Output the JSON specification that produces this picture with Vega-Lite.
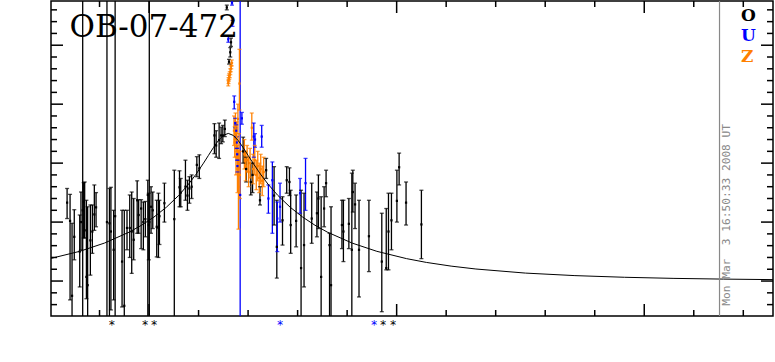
{
  "$schema": "https://vega.github.io/schema/vega-lite/v6.json",
  "width": 722,
  "height": 315,
  "autosize": {"type": "none"},
  "padding": {"left": 51, "top": 1, "right": 2, "bottom": 46},
  "background": "white",
  "config": {"view": {"stroke": "black", "strokeWidth": 1.5}, "font": "DejaVu Serif"},
  "datasets": {
    "obs": [
      {"t": 4266.9, "m": 1.33, "lo": 1.06, "hi": 1.57, "s": "O"},
      {"t": 4268.1, "m": 1.02, "lo": -0.32, "hi": 1.47, "s": "O"},
      {"t": 4268.9, "m": -0.25, "lo": -0.9, "hi": 0.98, "s": "O"},
      {"t": 4269.8, "m": 0.75, "lo": 0.36, "hi": 1.21, "s": "O"},
      {"t": 4272.0, "m": 0.5, "lo": -0.1, "hi": 1.12, "s": "O"},
      {"t": 4272.5, "m": 1.0, "lo": 0.53, "hi": 1.51, "s": "O"},
      {"t": 4273.2, "m": 1.2, "lo": -3, "hi": 8, "s": "O"},
      {"t": 4273.6, "m": 1.34, "lo": 0.73, "hi": 1.67, "s": "O"},
      {"t": 4274.0, "m": 0.86, "lo": 0.73, "hi": 1.68, "s": "O"},
      {"t": 4274.7, "m": 0.07, "lo": -0.3, "hi": 1.37, "s": "O"},
      {"t": 4275.2, "m": -0.07, "lo": -0.9, "hi": 1.26, "s": "O"},
      {"t": 4276.3, "m": 0.69, "lo": 0.1, "hi": 1.29, "s": "O"},
      {"t": 4277.1, "m": 0.84, "lo": 0.47, "hi": 1.29, "s": "O"},
      {"t": 4277.9, "m": 1.13, "lo": 0.86, "hi": 1.63, "s": "O"},
      {"t": 4278.6, "m": 1.25, "lo": 0.92, "hi": 1.5, "s": "O"},
      {"t": 4283.0, "m": 1.0, "lo": -3, "hi": 8, "s": "O"},
      {"t": 4284.0, "m": 0.98, "lo": -0.9, "hi": 1.57, "s": "O"},
      {"t": 4284.6, "m": 0.84, "lo": -0.49, "hi": 1.59, "s": "O"},
      {"t": 4285.7, "m": 0.53, "lo": -0.32, "hi": 1.2, "s": "O"},
      {"t": 4286.3, "m": 1.1, "lo": -3, "hi": 8, "s": "O"},
      {"t": 4289.1, "m": 0.33, "lo": -0.44, "hi": 1.2, "s": "O"},
      {"t": 4290.0, "m": -0.42, "lo": -0.9, "hi": 1.2, "s": "O"},
      {"t": 4291.1, "m": 0.9, "lo": 0.53, "hi": 1.2, "s": "O"},
      {"t": 4292.2, "m": 0.9, "lo": 0.4, "hi": 1.46, "s": "O"},
      {"t": 4293.0, "m": 0.84, "lo": 0.13, "hi": 1.51, "s": "O"},
      {"t": 4293.8, "m": 0.7, "lo": 0.36, "hi": 1.4, "s": "O"},
      {"t": 4295.2, "m": 1.37, "lo": 0.81, "hi": 1.7, "s": "O"},
      {"t": 4295.8, "m": 1.12, "lo": 0.81, "hi": 1.38, "s": "O"},
      {"t": 4296.8, "m": 1.23, "lo": 0.55, "hi": 1.38, "s": "O"},
      {"t": 4297.7, "m": 1.0, "lo": 0.53, "hi": 1.34, "s": "O"},
      {"t": 4298.5, "m": 1.05, "lo": 0.75, "hi": 1.35, "s": "O"},
      {"t": 4299.5, "m": 1.46, "lo": -0.9, "hi": 1.71, "s": "O"},
      {"t": 4299.9, "m": 0.95, "lo": 0.36, "hi": 1.49, "s": "O"},
      {"t": 4300.1, "m": 1.0, "lo": -3, "hi": 8, "s": "O"},
      {"t": 4300.8, "m": 1.26, "lo": 0.81, "hi": 1.6, "s": "O"},
      {"t": 4301.5, "m": 1.2, "lo": 0.89, "hi": 1.51, "s": "O"},
      {"t": 4303.1, "m": 0.92, "lo": 0.41, "hi": 1.37, "s": "O"},
      {"t": 4303.8, "m": 0.9, "lo": 0.4, "hi": 1.49, "s": "O"},
      {"t": 4304.2, "m": 1.1, "lo": 0.62, "hi": 1.37, "s": "O"},
      {"t": 4306.2, "m": 1.32, "lo": 1.0, "hi": 1.66, "s": "O"},
      {"t": 4310.2, "m": 1.05, "lo": -0.9, "hi": 1.88, "s": "O"},
      {"t": 4312.3, "m": 1.59, "lo": 1.26, "hi": 1.87, "s": "O"},
      {"t": 4312.8, "m": 1.5, "lo": 1.26, "hi": 1.74, "s": "O"},
      {"t": 4314.7, "m": 1.6, "lo": 1.37, "hi": 2.05, "s": "O"},
      {"t": 4315.5, "m": 1.45, "lo": 1.2, "hi": 1.71, "s": "O"},
      {"t": 4316.3, "m": 1.57, "lo": 1.32, "hi": 1.77, "s": "O"},
      {"t": 4317.2, "m": 1.6, "lo": 1.4, "hi": 1.8, "s": "O"},
      {"t": 4319.3, "m": 1.97, "lo": 1.77, "hi": 2.11, "s": "O"},
      {"t": 4320.3, "m": 1.91, "lo": 1.74, "hi": 2.14, "s": "O"},
      {"t": 4326.4, "m": 2.47, "lo": 2.16, "hi": 2.67, "s": "O"},
      {"t": 4327.1, "m": 2.3, "lo": 2.1, "hi": 2.55, "s": "O"},
      {"t": 4328.3, "m": 2.39, "lo": 2.08, "hi": 2.68, "s": "O"},
      {"t": 4329.1, "m": 2.47, "lo": 2.33, "hi": 2.61, "s": "O"},
      {"t": 4329.8, "m": 2.47, "lo": 2.36, "hi": 2.64, "s": "O"},
      {"t": 4330.6, "m": 2.58, "lo": 2.45, "hi": 2.73, "s": "O"},
      {"t": 4331.4, "m": 4.64, "lo": 4.6, "hi": 4.68, "s": "O"},
      {"t": 4332.3, "m": 3.72, "lo": 3.68, "hi": 3.76, "s": "O"},
      {"t": 4332.8, "m": 3.88, "lo": 3.8, "hi": 3.96, "s": "O"},
      {"t": 4333.1, "m": 4.05, "lo": 3.98, "hi": 4.12, "s": "O"},
      {"t": 4338.0, "m": 2.2, "lo": 2.0, "hi": 2.44, "s": "O"},
      {"t": 4339.2, "m": 1.9, "lo": 1.68, "hi": 2.1, "s": "O"},
      {"t": 4341.1, "m": 1.68, "lo": 1.46, "hi": 2.0, "s": "O"},
      {"t": 4341.8, "m": 1.8, "lo": 1.5, "hi": 2.0, "s": "O"},
      {"t": 4344.8, "m": 1.37, "lo": 1.29, "hi": 1.6, "s": "O"},
      {"t": 4347.3, "m": 1.88, "lo": 1.74, "hi": 2.08, "s": "O"},
      {"t": 4350.5, "m": 1.45, "lo": 0.95, "hi": 1.94, "s": "O"},
      {"t": 4351.6, "m": 0.58, "lo": 0.05, "hi": 1.37, "s": "O"},
      {"t": 4353.9, "m": 1.03, "lo": 0.61, "hi": 1.43, "s": "O"},
      {"t": 4355.6, "m": 1.71, "lo": 1.49, "hi": 1.94, "s": "O"},
      {"t": 4356.7, "m": 1.68, "lo": 1.45, "hi": 1.92, "s": "O"},
      {"t": 4357.2, "m": 0.95, "lo": 0.47, "hi": 1.54, "s": "O"},
      {"t": 4359.4, "m": 1.02, "lo": 0.58, "hi": 1.46, "s": "O"},
      {"t": 4361.4, "m": 0.22, "lo": -0.9, "hi": 1.54, "s": "O"},
      {"t": 4362.6, "m": 0.61, "lo": -0.1, "hi": 1.49, "s": "O"},
      {"t": 4365.7, "m": 1.06, "lo": 0.64, "hi": 1.66, "s": "O"},
      {"t": 4367.8, "m": 1.15, "lo": 0.75, "hi": 1.51, "s": "O"},
      {"t": 4368.4, "m": 1.4, "lo": 0.89, "hi": 1.8, "s": "O"},
      {"t": 4369.5, "m": 0.07, "lo": -0.9, "hi": 1.43, "s": "O"},
      {"t": 4370.7, "m": 1.23, "lo": 0.92, "hi": 1.6, "s": "O"},
      {"t": 4371.5, "m": 1.66, "lo": 1.43, "hi": 1.88, "s": "O"},
      {"t": 4372.9, "m": 0.61, "lo": -0.9, "hi": 0.81, "s": "O"},
      {"t": 4373.5, "m": -0.07, "lo": -0.9, "hi": 1.26, "s": "O"},
      {"t": 4377.9, "m": 0.95, "lo": 0.55, "hi": 1.37, "s": "O"},
      {"t": 4378.5, "m": 0.84, "lo": 0.33, "hi": 1.37, "s": "O"},
      {"t": 4380.7, "m": 0.97, "lo": 0.55, "hi": 1.4, "s": "O"},
      {"t": 4381.9, "m": 0.53, "lo": -0.9, "hi": 1.83, "s": "O"},
      {"t": 4382.3, "m": 1.51, "lo": 1.17, "hi": 1.88, "s": "O"},
      {"t": 4383.2, "m": 1.3, "lo": 0.89, "hi": 1.66, "s": "O"},
      {"t": 4384.8, "m": 0.53, "lo": -0.27, "hi": 1.37, "s": "O"},
      {"t": 4388.8, "m": 0.76, "lo": 0.16, "hi": 1.37, "s": "O"},
      {"t": 4394.0, "m": 0.33, "lo": -0.52, "hi": 1.15, "s": "O"},
      {"t": 4395.8, "m": 0.22, "lo": 0.19, "hi": 1.23, "s": "O"},
      {"t": 4396.7, "m": 0.84, "lo": 0.19, "hi": 1.49, "s": "O"},
      {"t": 4397.9, "m": 1.03, "lo": 0.53, "hi": 1.49, "s": "O"},
      {"t": 4400.1, "m": 1.36, "lo": 1.0, "hi": 1.88, "s": "O"},
      {"t": 4401.0, "m": 1.93, "lo": 1.63, "hi": 2.17, "s": "O"},
      {"t": 4403.8, "m": 1.33, "lo": 0.95, "hi": 1.68, "s": "O"},
      {"t": 4410.0, "m": 0.96, "lo": 0.38, "hi": 1.54, "s": "O"},
      {"t": 4332.0, "m": 4.1, "lo": 4.05, "hi": 4.15, "s": "U"},
      {"t": 4333.7, "m": 4.37, "lo": 4.32, "hi": 4.42, "s": "U"},
      {"t": 4333.5, "m": 4.72, "lo": 4.68, "hi": 4.76, "s": "U"},
      {"t": 4334.4, "m": 3.04, "lo": 2.92, "hi": 3.14, "s": "U"},
      {"t": 4334.8, "m": 2.68, "lo": 2.6, "hi": 2.76, "s": "U"},
      {"t": 4335.2, "m": 2.55, "lo": 2.45, "hi": 2.65, "s": "U"},
      {"t": 4335.4, "m": 2.35, "lo": 2.25, "hi": 2.45, "s": "U"},
      {"t": 4335.6, "m": 2.15, "lo": 2.05, "hi": 2.25, "s": "U"},
      {"t": 4335.7, "m": 1.95, "lo": 1.85, "hi": 2.05, "s": "U"},
      {"t": 4336.8, "m": 1.46, "lo": -3, "hi": 8, "s": "U"},
      {"t": 4337.5, "m": 2.76, "lo": 2.66, "hi": 2.86, "s": "U"},
      {"t": 4342.3, "m": 2.45, "lo": 2.1, "hi": 2.68, "s": "U"},
      {"t": 4342.8, "m": 2.4, "lo": 2.27, "hi": 2.5, "s": "U"},
      {"t": 4345.5, "m": 2.45, "lo": 2.27, "hi": 2.64, "s": "U"},
      {"t": 4348.2, "m": 1.4, "lo": 1.15, "hi": 1.63, "s": "U"},
      {"t": 4349.8, "m": 1.71, "lo": 0.81, "hi": 2.02, "s": "U"},
      {"t": 4351.8, "m": 1.06, "lo": 0.5, "hi": 1.34, "s": "U"},
      {"t": 4352.9, "m": 1.26, "lo": 1.0, "hi": 1.66, "s": "U"},
      {"t": 4361.0, "m": 1.49, "lo": 1.15, "hi": 1.74, "s": "U"},
      {"t": 4363.2, "m": 1.66, "lo": 1.2, "hi": 2.08, "s": "U"},
      {"t": 4332.0, "m": 3.36, "lo": 3.31, "hi": 3.41, "s": "Z"},
      {"t": 4332.1, "m": 3.4, "lo": 3.35, "hi": 3.45, "s": "Z"},
      {"t": 4332.2, "m": 3.44, "lo": 3.39, "hi": 3.49, "s": "Z"},
      {"t": 4332.4, "m": 3.47, "lo": 3.42, "hi": 3.52, "s": "Z"},
      {"t": 4332.6, "m": 3.5, "lo": 3.45, "hi": 3.55, "s": "Z"},
      {"t": 4332.8, "m": 3.55, "lo": 3.5, "hi": 3.6, "s": "Z"},
      {"t": 4333.0, "m": 3.6, "lo": 3.55, "hi": 3.65, "s": "Z"},
      {"t": 4333.2, "m": 3.65, "lo": 3.6, "hi": 3.7, "s": "Z"},
      {"t": 4333.4, "m": 3.7, "lo": 3.65, "hi": 3.75, "s": "Z"},
      {"t": 4334.3, "m": 2.55, "lo": 2.3, "hi": 2.8, "s": "Z"},
      {"t": 4334.6, "m": 2.35, "lo": 2.1, "hi": 2.62, "s": "Z"},
      {"t": 4334.9, "m": 2.6, "lo": 2.4, "hi": 2.85, "s": "Z"},
      {"t": 4335.1, "m": 2.1, "lo": 1.8, "hi": 2.4, "s": "Z"},
      {"t": 4335.4, "m": 2.45, "lo": 2.2, "hi": 2.7, "s": "Z"},
      {"t": 4335.7, "m": 1.9, "lo": 1.5, "hi": 2.3, "s": "Z"},
      {"t": 4335.9, "m": 2.75, "lo": 2.5, "hi": 3.0, "s": "Z"},
      {"t": 4336.1, "m": 1.6, "lo": 0.88, "hi": 2.2, "s": "Z"},
      {"t": 4336.3, "m": 2.2, "lo": 1.9, "hi": 2.5, "s": "Z"},
      {"t": 4336.5, "m": 3.35, "lo": 2.9, "hi": 3.93, "s": "Z"},
      {"t": 4336.7, "m": 1.8, "lo": 1.4, "hi": 2.2, "s": "Z"},
      {"t": 4338.5, "m": 2.15, "lo": 1.9, "hi": 2.4, "s": "Z"},
      {"t": 4339.0, "m": 1.95, "lo": 1.7, "hi": 2.2, "s": "Z"},
      {"t": 4339.6, "m": 2.05, "lo": 1.85, "hi": 2.3, "s": "Z"},
      {"t": 4340.2, "m": 1.85, "lo": 1.6, "hi": 2.1, "s": "Z"},
      {"t": 4340.8, "m": 2.0, "lo": 1.75, "hi": 2.25, "s": "Z"},
      {"t": 4341.5, "m": 2.6, "lo": 2.39, "hi": 2.85, "s": "Z"},
      {"t": 4342.0, "m": 1.9, "lo": 1.65, "hi": 2.15, "s": "Z"},
      {"t": 4342.7, "m": 2.05, "lo": 1.8, "hi": 2.3, "s": "Z"},
      {"t": 4343.3, "m": 1.8, "lo": 1.55, "hi": 2.05, "s": "Z"},
      {"t": 4343.9, "m": 1.95, "lo": 1.7, "hi": 2.2, "s": "Z"},
      {"t": 4344.5, "m": 1.75, "lo": 1.5, "hi": 2.0, "s": "Z"},
      {"t": 4345.1, "m": 1.9, "lo": 1.65, "hi": 2.15, "s": "Z"},
      {"t": 4345.7, "m": 1.7, "lo": 1.45, "hi": 1.95, "s": "Z"},
      {"t": 4346.3, "m": 1.85, "lo": 1.6, "hi": 2.1, "s": "Z"}
    ],
    "model": [
      {"t": 4260, "m": 0.38}, {"t": 4272, "m": 0.504}, {"t": 4282, "m": 0.644}, {"t": 4292, "m": 0.83},
      {"t": 4297, "m": 0.947}, {"t": 4302, "m": 1.086}, {"t": 4307, "m": 1.252}, {"t": 4312, "m": 1.453},
      {"t": 4316, "m": 1.646}, {"t": 4319, "m": 1.813}, {"t": 4322, "m": 2.0}, {"t": 4324, "m": 2.132},
      {"t": 4326, "m": 2.264}, {"t": 4328, "m": 2.384}, {"t": 4330, "m": 2.471}, {"t": 4332, "m": 2.504},
      {"t": 4334, "m": 2.471}, {"t": 4336, "m": 2.384}, {"t": 4338, "m": 2.264}, {"t": 4340, "m": 2.132},
      {"t": 4342, "m": 2.0}, {"t": 4345, "m": 1.813}, {"t": 4348, "m": 1.646}, {"t": 4352, "m": 1.453},
      {"t": 4357, "m": 1.252}, {"t": 4362, "m": 1.086}, {"t": 4367, "m": 0.947}, {"t": 4372, "m": 0.83},
      {"t": 4382, "m": 0.644}, {"t": 4392, "m": 0.504}, {"t": 4404, "m": 0.38}, {"t": 4412, "m": 0.316},
      {"t": 4422, "m": 0.253}, {"t": 4432, "m": 0.204}, {"t": 4452, "m": 0.135}, {"t": 4472, "m": 0.092},
      {"t": 4492, "m": 0.064}, {"t": 4512, "m": 0.045}, {"t": 4532, "m": 0.033}, {"t": 4552, "m": 0.024}
    ],
    "off": [
      {"t": 4285.0, "s": "O"}, {"t": 4298.4, "s": "O"}, {"t": 4302.0, "s": "O"},
      {"t": 4394.5, "s": "O"}, {"t": 4398.6, "s": "O"},
      {"t": 4352.9, "s": "U"}, {"t": 4390.9, "s": "U"}
    ],
    "xt": [
      {"v": 4280, "k": "minor"}, {"v": 4300, "k": "major"}, {"v": 4320, "k": "minor"}, {"v": 4340, "k": "minor"},
      {"v": 4360, "k": "minor"}, {"v": 4380, "k": "minor"}, {"v": 4400, "k": "major"}, {"v": 4420, "k": "minor"},
      {"v": 4440, "k": "minor"}, {"v": 4460, "k": "minor"}, {"v": 4480, "k": "minor"}, {"v": 4500, "k": "major"},
      {"v": 4520, "k": "minor"}, {"v": 4540, "k": "minor"}
    ],
    "yt": [
      {"v": -0.4, "k": "minor"}, {"v": -0.2, "k": "minor"}, {"v": 0, "k": "major"}, {"v": 0.2, "k": "minor"},
      {"v": 0.4, "k": "minor"}, {"v": 0.6, "k": "minor"}, {"v": 0.8, "k": "minor"}, {"v": 1, "k": "major"},
      {"v": 1.2, "k": "minor"}, {"v": 1.4, "k": "minor"}, {"v": 1.6, "k": "minor"}, {"v": 1.8, "k": "minor"},
      {"v": 2, "k": "major"}, {"v": 2.2, "k": "minor"}, {"v": 2.4, "k": "minor"}, {"v": 2.6, "k": "minor"},
      {"v": 2.8, "k": "minor"}, {"v": 3, "k": "major"}, {"v": 3.2, "k": "minor"}, {"v": 3.4, "k": "minor"},
      {"v": 3.6, "k": "minor"}, {"v": 3.8, "k": "minor"}, {"v": 4, "k": "major"}, {"v": 4.2, "k": "minor"},
      {"v": 4.4, "k": "minor"}, {"v": 4.6, "k": "minor"}
    ],
    "labels": [
      {"stamp": "Mon Mar \u00a03 16:50:33 2008 UT", "name": "OB-07-472"}
    ]
  },
  "layer": [
    {
      "data": {"name": "obs"},
      "mark": {"type": "rule", "clip": true, "strokeWidth": 1.3},
      "encoding": {
        "x": {"field": "t", "type": "quantitative", "scale": {"domain": [4260.4, 4552], "nice": false, "zero": false},
          "axis": {"orient": "bottom", "values": [4300, 4400, 4500], "format": "d", "ticks": false, "domain": false, "grid": false,
            "labelFont": "DejaVu Serif", "labelFontSize": 18, "labelColor": "black", "labelPadding": 9, "labelBaseline": "top",
            "title": "HJD - 2450000", "titleFont": "DejaVu Serif", "titleFontSize": 18, "titleFontWeight": "normal", "titleColor": "black",
            "titleX": 361, "titleY": 43, "titleBaseline": "alphabetic", "titleAlign": "center"}},
        "y": {"field": "lo", "type": "quantitative", "scale": {"domain": [-0.593, 4.75], "nice": false, "zero": false},
          "axis": {"orient": "left", "values": [0, 1, 2, 3, 4], "format": "d", "ticks": false, "domain": false, "grid": false,
            "labelFont": "DejaVu Serif", "labelFontSize": 18, "labelColor": "black", "labelPadding": 11,
            "title": "Δ(I,R) (mag)", "titleFont": "DejaVu Serif", "titleFontSize": 21, "titleFontWeight": "normal", "titleColor": "black",
            "titleX": -38.5, "titleY": 173, "titleAngle": 270, "titleAlign": "center", "titleBaseline": "middle"}},
        "y2": {"field": "hi"},
        "color": {"field": "s", "type": "nominal",
          "scale": {"domain": ["O", "U", "Z"], "range": ["#000000", "#0000ff", "#ff8000"]},
          "legend": {"orient": "none", "legendX": 673, "legendY": 6, "title": null, "direction": "vertical",
            "symbolOpacity": 0, "symbolSize": 0, "symbolStrokeWidth": 0, "labelOffset": 0, "padding": 0, "rowPadding": 2.5,
            "labelFont": "DejaVu Serif", "labelFontSize": 17, "labelFontWeight": "bold",
            "encode": {"labels": {"update": {"fill": {"scale": "color", "field": "value"}}}}}}
      }
    },
    {
      "data": {"name": "obs"},
      "mark": {"type": "tick", "orient": "horizontal", "size": 4, "thickness": 1.3, "clip": true},
      "encoding": {
        "x": {"field": "t", "type": "quantitative", "scale": {"domain": [4260.4, 4552], "nice": false, "zero": false}, "axis": null},
        "y": {"field": "lo", "type": "quantitative", "scale": {"domain": [-0.593, 4.75], "nice": false, "zero": false}, "axis": null},
        "color": {"field": "s", "type": "nominal"}
      }
    },
    {
      "data": {"name": "obs"},
      "mark": {"type": "tick", "orient": "horizontal", "size": 4, "thickness": 1.3, "clip": true},
      "encoding": {
        "x": {"field": "t", "type": "quantitative", "scale": {"domain": [4260.4, 4552], "nice": false, "zero": false}, "axis": null},
        "y": {"field": "hi", "type": "quantitative", "scale": {"domain": [-0.593, 4.75], "nice": false, "zero": false}, "axis": null},
        "color": {"field": "s", "type": "nominal"}
      }
    },
    {
      "data": {"name": "obs"},
      "mark": {"type": "square", "size": 5, "opacity": 1, "clip": true},
      "encoding": {
        "x": {"field": "t", "type": "quantitative", "scale": {"domain": [4260.4, 4552], "nice": false, "zero": false}, "axis": null},
        "y": {"field": "m", "type": "quantitative", "scale": {"domain": [-0.593, 4.75], "nice": false, "zero": false}, "axis": null},
        "color": {"field": "s", "type": "nominal"}
      }
    },
    {
      "data": {"name": "model"},
      "mark": {"type": "line", "color": "black", "strokeWidth": 1, "clip": true},
      "encoding": {
        "x": {"field": "t", "type": "quantitative", "scale": {"domain": [4260.4, 4552], "nice": false, "zero": false}, "axis": null},
        "y": {"field": "m", "type": "quantitative", "scale": {"domain": [-0.593, 4.75], "nice": false, "zero": false}, "axis": null}
      }
    },
    {
      "data": {"name": "off"},
      "mark": {"type": "text", "text": "*", "font": "DejaVu Sans Mono", "fontSize": 12, "baseline": "middle", "align": "center", "clip": false},
      "encoding": {
        "x": {"field": "t", "type": "quantitative", "scale": {"domain": [4260.4, 4552], "nice": false, "zero": false}, "axis": null},
        "y": {"datum": -0.74, "type": "quantitative", "scale": {"domain": [-0.593, 4.75], "nice": false, "zero": false}, "axis": null},
        "color": {"field": "s", "type": "nominal"}
      }
    },
    {
      "data": {"name": "xt"},
      "transform": [{"filter": "datum.k === 'major'"}],
      "mark": {"type": "rule", "color": "black", "strokeWidth": 1.5},
      "encoding": {
        "x": {"field": "v", "type": "quantitative", "scale": {"domain": [4260.4, 4552], "nice": false, "zero": false}, "axis": null},
        "y": {"datum": -0.593, "type": "quantitative", "scale": {"domain": [-0.593, 4.75], "nice": false, "zero": false}, "axis": null},
        "y2": {"datum": -0.3895}
      }
    },
    {
      "data": {"name": "xt"},
      "transform": [{"filter": "datum.k === 'minor'"}],
      "mark": {"type": "rule", "color": "black", "strokeWidth": 1.5},
      "encoding": {
        "x": {"field": "v", "type": "quantitative", "scale": {"domain": [4260.4, 4552], "nice": false, "zero": false}, "axis": null},
        "y": {"datum": -0.593, "type": "quantitative", "scale": {"domain": [-0.593, 4.75], "nice": false, "zero": false}, "axis": null},
        "y2": {"datum": -0.491}
      }
    },
    {
      "data": {"name": "xt"},
      "transform": [{"filter": "datum.k === 'major'"}],
      "mark": {"type": "rule", "color": "black", "strokeWidth": 1.5},
      "encoding": {
        "x": {"field": "v", "type": "quantitative", "scale": {"domain": [4260.4, 4552], "nice": false, "zero": false}, "axis": null},
        "y": {"datum": 4.75, "type": "quantitative", "scale": {"domain": [-0.593, 4.75], "nice": false, "zero": false}, "axis": null},
        "y2": {"datum": 4.5465}
      }
    },
    {
      "data": {"name": "xt"},
      "transform": [{"filter": "datum.k === 'minor'"}],
      "mark": {"type": "rule", "color": "black", "strokeWidth": 1.5},
      "encoding": {
        "x": {"field": "v", "type": "quantitative", "scale": {"domain": [4260.4, 4552], "nice": false, "zero": false}, "axis": null},
        "y": {"datum": 4.75, "type": "quantitative", "scale": {"domain": [-0.593, 4.75], "nice": false, "zero": false}, "axis": null},
        "y2": {"datum": 4.648}
      }
    },
    {
      "data": {"name": "yt"},
      "transform": [{"filter": "datum.k === 'major'"}],
      "mark": {"type": "rule", "color": "black", "strokeWidth": 1.5},
      "encoding": {
        "y": {"field": "v", "type": "quantitative", "scale": {"domain": [-0.593, 4.75], "nice": false, "zero": false}, "axis": null},
        "x": {"datum": 4260.4, "type": "quantitative", "scale": {"domain": [4260.4, 4552], "nice": false, "zero": false}, "axis": null},
        "x2": {"datum": 4265.25}
      }
    },
    {
      "data": {"name": "yt"},
      "transform": [{"filter": "datum.k === 'minor'"}],
      "mark": {"type": "rule", "color": "black", "strokeWidth": 1.5},
      "encoding": {
        "y": {"field": "v", "type": "quantitative", "scale": {"domain": [-0.593, 4.75], "nice": false, "zero": false}, "axis": null},
        "x": {"datum": 4260.4, "type": "quantitative", "scale": {"domain": [4260.4, 4552], "nice": false, "zero": false}, "axis": null},
        "x2": {"datum": 4262.82}
      }
    },
    {
      "data": {"name": "yt"},
      "transform": [{"filter": "datum.k === 'major'"}],
      "mark": {"type": "rule", "color": "black", "strokeWidth": 1.5},
      "encoding": {
        "y": {"field": "v", "type": "quantitative", "scale": {"domain": [-0.593, 4.75], "nice": false, "zero": false}, "axis": null},
        "x": {"datum": 4552, "type": "quantitative", "scale": {"domain": [4260.4, 4552], "nice": false, "zero": false}, "axis": null},
        "x2": {"datum": 4547.15}
      }
    },
    {
      "data": {"name": "yt"},
      "transform": [{"filter": "datum.k === 'minor'"}],
      "mark": {"type": "rule", "color": "black", "strokeWidth": 1.5},
      "encoding": {
        "y": {"field": "v", "type": "quantitative", "scale": {"domain": [-0.593, 4.75], "nice": false, "zero": false}, "axis": null},
        "x": {"datum": 4552, "type": "quantitative", "scale": {"domain": [4260.4, 4552], "nice": false, "zero": false}, "axis": null},
        "x2": {"datum": 4549.58}
      }
    },
    {
      "data": {"name": "labels"},
      "mark": {"type": "rule", "color": "#888888", "strokeWidth": 1.2},
      "encoding": {
        "x": {"datum": 4530.4, "type": "quantitative", "scale": {"domain": [4260.4, 4552], "nice": false, "zero": false}, "axis": null}
      }
    },
    {
      "data": {"name": "labels"},
      "mark": {"type": "text", "angle": 270, "align": "left", "baseline": "middle", "font": "DejaVu Sans Mono", "fontSize": 11.2, "color": "#888888"},
      "encoding": {
        "x": {"datum": 4533.4, "type": "quantitative", "scale": {"domain": [4260.4, 4552], "nice": false, "zero": false}, "axis": null},
        "y": {"datum": -0.42, "type": "quantitative", "scale": {"domain": [-0.593, 4.75], "nice": false, "zero": false}, "axis": null},
        "text": {"field": "stamp"}
      }
    },
    {
      "data": {"name": "labels"},
      "mark": {"type": "text", "align": "left", "baseline": "alphabetic", "font": "DejaVu Serif", "fontSize": 31, "color": "black", "clip": false},
      "encoding": {
        "x": {"datum": 4267.9, "type": "quantitative", "scale": {"domain": [4260.4, 4552], "nice": false, "zero": false}, "axis": null},
        "y": {"datum": 4.14, "type": "quantitative", "scale": {"domain": [-0.593, 4.75], "nice": false, "zero": false}, "axis": null},
        "text": {"field": "name"}
      }
    }
  ]
}
